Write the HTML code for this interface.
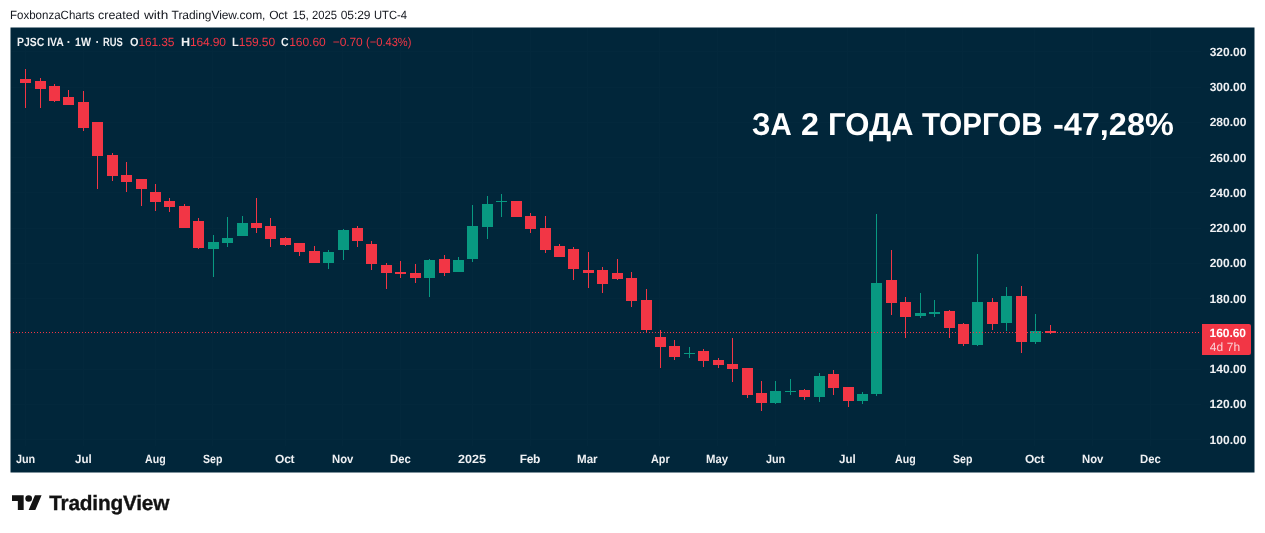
<!DOCTYPE html>
<html lang="ru"><head><meta charset="utf-8"><title>PJSC IVA chart</title>
<style>
html,body{margin:0;padding:0;background:#fff;}
body{width:1265px;height:533px;position:relative;overflow:hidden;font-family:"Liberation Sans",sans-serif;}
#chart{position:absolute;left:10px;top:27px;width:1246px;height:447px;overflow:hidden;}
#chart svg{position:absolute;left:0;top:0;}
.t{position:absolute;white-space:pre;line-height:1;display:block;text-rendering:geometricPrecision;}
#logoicon{position:absolute;left:12.1px;top:491.74px;}
#logo{-webkit-text-stroke:0.35px #131313;}
</style></head><body>
<div id="chart"><svg width="1246" height="447" viewBox="0 0 1246 447" shape-rendering="crispEdges">
<rect x="0.5" y="0.5" width="1244" height="445" fill="#01263a" shape-rendering="geometricPrecision"/>
<rect x="1" y="24" width="1190" height="1" fill="#03283c"/>
<rect x="1" y="60" width="1190" height="1" fill="#03283c"/>
<rect x="1" y="95" width="1190" height="1" fill="#03283c"/>
<rect x="1" y="130" width="1190" height="1" fill="#03283c"/>
<rect x="1" y="165" width="1190" height="1" fill="#03283c"/>
<rect x="1" y="201" width="1190" height="1" fill="#03283c"/>
<rect x="1" y="236" width="1190" height="1" fill="#03283c"/>
<rect x="1" y="271" width="1190" height="1" fill="#03283c"/>
<rect x="1" y="306" width="1190" height="1" fill="#03283c"/>
<rect x="1" y="342" width="1190" height="1" fill="#03283c"/>
<rect x="1" y="377" width="1190" height="1" fill="#03283c"/>
<rect x="1" y="412" width="1190" height="1" fill="#03283c"/>
<rect x="15" y="1" width="1" height="418" fill="#03283c"/>
<rect x="73" y="1" width="1" height="418" fill="#03283c"/>
<rect x="145" y="1" width="1" height="418" fill="#03283c"/>
<rect x="202" y="1" width="1" height="418" fill="#03283c"/>
<rect x="275" y="1" width="1" height="418" fill="#03283c"/>
<rect x="332" y="1" width="1" height="418" fill="#03283c"/>
<rect x="390" y="1" width="1" height="418" fill="#03283c"/>
<rect x="462" y="1" width="1" height="418" fill="#03283c"/>
<rect x="520" y="1" width="1" height="418" fill="#03283c"/>
<rect x="577" y="1" width="1" height="418" fill="#03283c"/>
<rect x="649" y="1" width="1" height="418" fill="#03283c"/>
<rect x="707" y="1" width="1" height="418" fill="#03283c"/>
<rect x="765" y="1" width="1" height="418" fill="#03283c"/>
<rect x="837" y="1" width="1" height="418" fill="#03283c"/>
<rect x="895" y="1" width="1" height="418" fill="#03283c"/>
<rect x="952" y="1" width="1" height="418" fill="#03283c"/>
<rect x="1024" y="1" width="1" height="418" fill="#03283c"/>
<rect x="1082" y="1" width="1" height="418" fill="#03283c"/>
<rect x="1140" y="1" width="1" height="418" fill="#03283c"/>
<rect x="15" y="42" width="1" height="39" fill="#f23645"/>
<rect x="10" y="52" width="11" height="4" fill="#f23645"/>
<rect x="30" y="51" width="1" height="30" fill="#f23645"/>
<rect x="25" y="54" width="11" height="8" fill="#f23645"/>
<rect x="44" y="57" width="1" height="18" fill="#f23645"/>
<rect x="39" y="59" width="11" height="15" fill="#f23645"/>
<rect x="58" y="63" width="1" height="15" fill="#f23645"/>
<rect x="53" y="70" width="11" height="8" fill="#f23645"/>
<rect x="73" y="64" width="1" height="40" fill="#f23645"/>
<rect x="68" y="75" width="11" height="26" fill="#f23645"/>
<rect x="87" y="95" width="1" height="67" fill="#f23645"/>
<rect x="82" y="95" width="11" height="34" fill="#f23645"/>
<rect x="102" y="126" width="1" height="28" fill="#f23645"/>
<rect x="97" y="128" width="11" height="21" fill="#f23645"/>
<rect x="116" y="135" width="1" height="30" fill="#f23645"/>
<rect x="111" y="148" width="11" height="7" fill="#f23645"/>
<rect x="131" y="152" width="1" height="27" fill="#f23645"/>
<rect x="126" y="152" width="11" height="10" fill="#f23645"/>
<rect x="145" y="157" width="1" height="27" fill="#f23645"/>
<rect x="140" y="165" width="11" height="10" fill="#f23645"/>
<rect x="159" y="171" width="1" height="14" fill="#f23645"/>
<rect x="154" y="174" width="11" height="6" fill="#f23645"/>
<rect x="174" y="177" width="1" height="24" fill="#f23645"/>
<rect x="169" y="179" width="11" height="22" fill="#f23645"/>
<rect x="188" y="191" width="1" height="31" fill="#f23645"/>
<rect x="183" y="194" width="11" height="27" fill="#f23645"/>
<rect x="203" y="208" width="1" height="42" fill="#089981"/>
<rect x="198" y="215" width="11" height="7" fill="#089981"/>
<rect x="217" y="190" width="1" height="30" fill="#089981"/>
<rect x="212" y="211" width="11" height="5" fill="#089981"/>
<rect x="232" y="189" width="1" height="20" fill="#089981"/>
<rect x="227" y="196" width="11" height="13" fill="#089981"/>
<rect x="246" y="171" width="1" height="35" fill="#f23645"/>
<rect x="241" y="196" width="11" height="5" fill="#f23645"/>
<rect x="260" y="191" width="1" height="29" fill="#f23645"/>
<rect x="255" y="199" width="11" height="13" fill="#f23645"/>
<rect x="275" y="210" width="1" height="9" fill="#f23645"/>
<rect x="270" y="211" width="11" height="7" fill="#f23645"/>
<rect x="289" y="216" width="1" height="13" fill="#f23645"/>
<rect x="284" y="216" width="11" height="9" fill="#f23645"/>
<rect x="304" y="219" width="1" height="17" fill="#f23645"/>
<rect x="299" y="224" width="11" height="12" fill="#f23645"/>
<rect x="318" y="223" width="1" height="19" fill="#089981"/>
<rect x="313" y="225" width="11" height="11" fill="#089981"/>
<rect x="333" y="202" width="1" height="31" fill="#089981"/>
<rect x="328" y="203" width="11" height="20" fill="#089981"/>
<rect x="347" y="199" width="1" height="21" fill="#f23645"/>
<rect x="342" y="201" width="11" height="13" fill="#f23645"/>
<rect x="361" y="214" width="1" height="29" fill="#f23645"/>
<rect x="356" y="217" width="11" height="20" fill="#f23645"/>
<rect x="376" y="236" width="1" height="26" fill="#f23645"/>
<rect x="371" y="238" width="11" height="8" fill="#f23645"/>
<rect x="390" y="234" width="1" height="17" fill="#f23645"/>
<rect x="385" y="245" width="11" height="2" fill="#f23645"/>
<rect x="405" y="237" width="1" height="19" fill="#f23645"/>
<rect x="400" y="246" width="11" height="5" fill="#f23645"/>
<rect x="419" y="232" width="1" height="38" fill="#089981"/>
<rect x="414" y="233" width="11" height="18" fill="#089981"/>
<rect x="434" y="228" width="1" height="21" fill="#f23645"/>
<rect x="429" y="232" width="11" height="14" fill="#f23645"/>
<rect x="448" y="230" width="1" height="15" fill="#089981"/>
<rect x="443" y="233" width="11" height="12" fill="#089981"/>
<rect x="462" y="178" width="1" height="57" fill="#089981"/>
<rect x="457" y="199" width="11" height="33" fill="#089981"/>
<rect x="477" y="169" width="1" height="43" fill="#089981"/>
<rect x="472" y="177" width="11" height="23" fill="#089981"/>
<rect x="491" y="167" width="1" height="23" fill="#089981"/>
<rect x="486" y="174" width="11" height="1" fill="#089981"/>
<rect x="506" y="174" width="1" height="16" fill="#f23645"/>
<rect x="501" y="174" width="11" height="16" fill="#f23645"/>
<rect x="520" y="186" width="1" height="20" fill="#f23645"/>
<rect x="515" y="189" width="11" height="13" fill="#f23645"/>
<rect x="535" y="189" width="1" height="37" fill="#f23645"/>
<rect x="530" y="201" width="11" height="22" fill="#f23645"/>
<rect x="549" y="217" width="1" height="13" fill="#f23645"/>
<rect x="544" y="219" width="11" height="11" fill="#f23645"/>
<rect x="563" y="220" width="1" height="33" fill="#f23645"/>
<rect x="558" y="222" width="11" height="20" fill="#f23645"/>
<rect x="578" y="225" width="1" height="36" fill="#f23645"/>
<rect x="573" y="243" width="11" height="3" fill="#f23645"/>
<rect x="592" y="240" width="1" height="26" fill="#f23645"/>
<rect x="587" y="243" width="11" height="14" fill="#f23645"/>
<rect x="607" y="232" width="1" height="21" fill="#f23645"/>
<rect x="602" y="246" width="11" height="6" fill="#f23645"/>
<rect x="621" y="245" width="1" height="35" fill="#f23645"/>
<rect x="616" y="251" width="11" height="23" fill="#f23645"/>
<rect x="636" y="262" width="1" height="44" fill="#f23645"/>
<rect x="631" y="273" width="11" height="30" fill="#f23645"/>
<rect x="650" y="303" width="1" height="38" fill="#f23645"/>
<rect x="645" y="310" width="11" height="10" fill="#f23645"/>
<rect x="664" y="313" width="1" height="20" fill="#f23645"/>
<rect x="659" y="319" width="11" height="11" fill="#f23645"/>
<rect x="679" y="320" width="1" height="11" fill="#089981"/>
<rect x="674" y="326" width="11" height="1" fill="#089981"/>
<rect x="693" y="322" width="1" height="18" fill="#f23645"/>
<rect x="688" y="324" width="11" height="10" fill="#f23645"/>
<rect x="708" y="331" width="1" height="10" fill="#f23645"/>
<rect x="703" y="333" width="11" height="5" fill="#f23645"/>
<rect x="722" y="311" width="1" height="44" fill="#f23645"/>
<rect x="717" y="337" width="11" height="5" fill="#f23645"/>
<rect x="737" y="341" width="1" height="30" fill="#f23645"/>
<rect x="732" y="341" width="11" height="27" fill="#f23645"/>
<rect x="751" y="354" width="1" height="30" fill="#f23645"/>
<rect x="746" y="366" width="11" height="10" fill="#f23645"/>
<rect x="765" y="354" width="1" height="23" fill="#089981"/>
<rect x="760" y="364" width="11" height="12" fill="#089981"/>
<rect x="780" y="352" width="1" height="16" fill="#089981"/>
<rect x="775" y="364" width="11" height="1" fill="#089981"/>
<rect x="794" y="362" width="1" height="11" fill="#f23645"/>
<rect x="789" y="363" width="11" height="7" fill="#f23645"/>
<rect x="809" y="346" width="1" height="29" fill="#089981"/>
<rect x="804" y="349" width="11" height="21" fill="#089981"/>
<rect x="823" y="343" width="1" height="25" fill="#f23645"/>
<rect x="818" y="347" width="11" height="14" fill="#f23645"/>
<rect x="838" y="360" width="1" height="20" fill="#f23645"/>
<rect x="833" y="360" width="11" height="14" fill="#f23645"/>
<rect x="852" y="365" width="1" height="12" fill="#089981"/>
<rect x="847" y="367" width="11" height="7" fill="#089981"/>
<rect x="866" y="187" width="1" height="182" fill="#089981"/>
<rect x="861" y="256" width="11" height="111" fill="#089981"/>
<rect x="881" y="223" width="1" height="65" fill="#f23645"/>
<rect x="876" y="253" width="11" height="23" fill="#f23645"/>
<rect x="895" y="270" width="1" height="41" fill="#f23645"/>
<rect x="890" y="275" width="11" height="15" fill="#f23645"/>
<rect x="910" y="266" width="1" height="25" fill="#089981"/>
<rect x="905" y="286" width="11" height="3" fill="#089981"/>
<rect x="924" y="273" width="1" height="17" fill="#089981"/>
<rect x="919" y="285" width="11" height="2" fill="#089981"/>
<rect x="939" y="283" width="1" height="28" fill="#f23645"/>
<rect x="934" y="284" width="11" height="17" fill="#f23645"/>
<rect x="953" y="296" width="1" height="23" fill="#f23645"/>
<rect x="948" y="297" width="11" height="20" fill="#f23645"/>
<rect x="967" y="227" width="1" height="92" fill="#089981"/>
<rect x="962" y="275" width="11" height="43" fill="#089981"/>
<rect x="982" y="271" width="1" height="32" fill="#f23645"/>
<rect x="977" y="275" width="11" height="22" fill="#f23645"/>
<rect x="996" y="260" width="1" height="44" fill="#089981"/>
<rect x="991" y="269" width="11" height="27" fill="#089981"/>
<rect x="1011" y="259" width="1" height="67" fill="#f23645"/>
<rect x="1006" y="269" width="11" height="46" fill="#f23645"/>
<rect x="1025" y="287" width="1" height="30" fill="#089981"/>
<rect x="1020" y="304" width="11" height="11" fill="#089981"/>
<rect x="1040" y="298" width="1" height="9" fill="#f23645"/>
<rect x="1035" y="304" width="11" height="2" fill="#f23645"/>
<line x1="0" y1="305.5" x2="1190" y2="305.5" stroke="#f23645" stroke-width="1" stroke-dasharray="1 2"/>
<path d="M1192 297h47a2 2 0 0 1 2 2v27a2 2 0 0 1 -2 2h-47z" fill="#f23645" shape-rendering="geometricPrecision"/>
</svg></div>
<svg id="logoicon" width="30" height="22.8" viewBox="0 0 36 28" preserveAspectRatio="none"><path fill="#131313" d="M14 22H7V11H0V4h14v18zM28 22h-8l7.5-18h8L28 22z"/><circle fill="#131313" cx="20" cy="8" r="4"/></svg>
<span id="hdr0" class="t" style="left:10.00px;top:8.84px;font-size:12px;font-weight:400;color:#15181f;transform:scaleX(0.9602);transform-origin:0 0;">FoxbonzaCharts</span>
<span id="hdr1" class="t" style="left:98.00px;top:8.84px;font-size:12px;font-weight:400;color:#15181f;transform:scaleX(1.0400);transform-origin:0 0;">created</span>
<span id="hdr2" class="t" style="left:144.00px;top:8.84px;font-size:12px;font-weight:400;color:#15181f;transform:scaleX(1.1352);transform-origin:0 0;">with</span>
<span id="hdr3" class="t" style="left:171.60px;top:8.84px;font-size:12px;font-weight:400;color:#15181f;letter-spacing:-0.060px;">TradingView.com,</span>
<span id="hdr4" class="t" style="left:269.15px;top:8.84px;font-size:12px;font-weight:400;color:#15181f;letter-spacing:-0.100px;">Oct</span>
<span id="hdr5" class="t" style="left:292.50px;top:8.84px;font-size:12px;font-weight:400;color:#15181f;letter-spacing:-0.175px;">15,</span>
<span id="hdr6" class="t" style="left:312.00px;top:8.84px;font-size:12px;font-weight:400;color:#15181f;transform:scaleX(0.9360);transform-origin:0 0;">2025</span>
<span id="hdr7" class="t" style="left:340.70px;top:8.84px;font-size:12px;font-weight:400;color:#15181f;letter-spacing:-0.075px;">05:29</span>
<span id="hdr8" class="t" style="left:374.00px;top:8.84px;font-size:12px;font-weight:400;color:#15181f;transform:scaleX(0.9343);transform-origin:0 0;">UTC-4</span>
<span id="lg0a" class="t" style="left:17.00px;top:35.84px;font-size:12px;font-weight:700;color:#eef0f3;transform:scaleX(0.8692);transform-origin:0 0;">PJSC IVA</span>
<span id="lg0b" class="t" style="left:66.72px;top:35.84px;font-size:12px;font-weight:700;color:#eef0f3;">·</span>
<span id="lg0c" class="t" style="left:75.00px;top:35.84px;font-size:12px;font-weight:700;color:#eef0f3;transform:scaleX(0.8814);transform-origin:0 0;">1W</span>
<span id="lg0d" class="t" style="left:95.53px;top:35.84px;font-size:12px;font-weight:700;color:#eef0f3;">·</span>
<span id="lg0e" class="t" style="left:103.00px;top:35.84px;font-size:12px;font-weight:700;color:#eef0f3;transform:scaleX(0.7814);transform-origin:0 0;">RUS</span>
<span id="lgO" class="t" style="left:130.00px;top:35.84px;font-size:12px;font-weight:700;color:#eef0f3;transform:scaleX(0.9091);transform-origin:0 0;">O</span>
<span id="lgOv" class="t" style="left:138.50px;top:35.84px;font-size:12px;font-weight:400;color:#f23645;letter-spacing:-0.150px;">161.35</span>
<span id="lgH" class="t" style="left:181.00px;top:35.84px;font-size:12px;font-weight:700;color:#eef0f3;transform:scaleX(1.0521);transform-origin:0 0;">H</span>
<span id="lgHv" class="t" style="left:189.90px;top:35.84px;font-size:12px;font-weight:400;color:#f23645;letter-spacing:-0.140px;">164.90</span>
<span id="lgL" class="t" style="left:232.00px;top:35.84px;font-size:12px;font-weight:700;color:#eef0f3;transform:scaleX(0.9134);transform-origin:0 0;">L</span>
<span id="lgLv" class="t" style="left:238.85px;top:35.84px;font-size:12px;font-weight:400;color:#f23645;letter-spacing:-0.090px;">159.50</span>
<span id="lgC" class="t" style="left:281.00px;top:35.84px;font-size:12px;font-weight:700;color:#eef0f3;transform:scaleX(0.8784);transform-origin:0 0;">C</span>
<span id="lgCv" class="t" style="left:289.20px;top:35.84px;font-size:12px;font-weight:400;color:#f23645;letter-spacing:-0.030px;">160.60</span>
<span id="lgD" class="t" style="left:332.80px;top:35.84px;font-size:12px;font-weight:400;color:#f23645;letter-spacing:-0.112px;">−0.70</span>
<span id="lgP" class="t" style="left:366.00px;top:35.84px;font-size:12px;font-weight:400;color:#f23645;transform:scaleX(0.9267);transform-origin:0 0;">(−0.43%)</span>
<span id="p0" class="t" style="left:1209.70px;top:45.74px;font-size:12px;font-weight:700;color:#eef0f3;letter-spacing:0.010px;">320.00</span>
<span id="p1" class="t" style="left:1209.70px;top:81.01px;font-size:12px;font-weight:700;color:#eef0f3;letter-spacing:0.010px;">300.00</span>
<span id="p2" class="t" style="left:1209.70px;top:116.28px;font-size:12px;font-weight:700;color:#eef0f3;letter-spacing:0.010px;">280.00</span>
<span id="p3" class="t" style="left:1209.70px;top:151.55px;font-size:12px;font-weight:700;color:#eef0f3;letter-spacing:0.010px;">260.00</span>
<span id="p4" class="t" style="left:1209.70px;top:186.82px;font-size:12px;font-weight:700;color:#eef0f3;letter-spacing:0.010px;">240.00</span>
<span id="p5" class="t" style="left:1209.70px;top:222.09px;font-size:12px;font-weight:700;color:#eef0f3;letter-spacing:0.010px;">220.00</span>
<span id="p6" class="t" style="left:1209.70px;top:257.36px;font-size:12px;font-weight:700;color:#eef0f3;letter-spacing:0.010px;">200.00</span>
<span id="p7" class="t" style="left:1209.45px;top:292.63px;font-size:12px;font-weight:700;color:#eef0f3;letter-spacing:0.060px;">180.00</span>
<span id="p9" class="t" style="left:1209.45px;top:363.17px;font-size:12px;font-weight:700;color:#eef0f3;letter-spacing:0.060px;">140.00</span>
<span id="p10" class="t" style="left:1209.45px;top:398.44px;font-size:12px;font-weight:700;color:#eef0f3;letter-spacing:0.060px;">120.00</span>
<span id="p11" class="t" style="left:1209.45px;top:433.71px;font-size:12px;font-weight:700;color:#eef0f3;letter-spacing:0.060px;">100.00</span>
<span id="m0" class="t" style="left:16.00px;top:452.84px;font-size:12px;font-weight:700;color:#eef0f3;transform:scaleX(0.9000);transform-origin:0 0;">Jun</span>
<span id="m1" class="t" style="left:75.00px;top:452.84px;font-size:12px;font-weight:700;color:#eef0f3;transform:scaleX(0.9639);transform-origin:0 0;">Jul</span>
<span id="m2" class="t" style="left:145.00px;top:452.84px;font-size:12px;font-weight:700;color:#eef0f3;transform:scaleX(0.8832);transform-origin:0 0;">Aug</span>
<span id="m3" class="t" style="left:203.00px;top:452.84px;font-size:12px;font-weight:700;color:#eef0f3;transform:scaleX(0.8788);transform-origin:0 0;">Sep</span>
<span id="m4" class="t" style="left:275.05px;top:452.84px;font-size:12px;font-weight:700;color:#eef0f3;letter-spacing:-0.250px;">Oct</span>
<span id="m5" class="t" style="left:332.00px;top:452.84px;font-size:12px;font-weight:700;color:#eef0f3;transform:scaleX(0.9425);transform-origin:0 0;">Nov</span>
<span id="m6" class="t" style="left:390.00px;top:452.84px;font-size:12px;font-weight:700;color:#eef0f3;transform:scaleX(0.9429);transform-origin:0 0;">Dec</span>
<span id="m7" class="t" style="left:458.00px;top:452.84px;font-size:12px;font-weight:700;color:#eef0f3;transform:scaleX(1.0500);transform-origin:0 0;">2025</span>
<span id="m8" class="t" style="left:519.75px;top:452.84px;font-size:12px;font-weight:700;color:#eef0f3;letter-spacing:-0.375px;">Feb</span>
<span id="m9" class="t" style="left:577.00px;top:452.84px;font-size:12px;font-weight:700;color:#eef0f3;transform:scaleX(0.9659);transform-origin:0 0;">Mar</span>
<span id="m10" class="t" style="left:651.00px;top:452.84px;font-size:12px;font-weight:700;color:#eef0f3;transform:scaleX(0.9038);transform-origin:0 0;">Apr</span>
<span id="m11" class="t" style="left:706.00px;top:452.84px;font-size:12px;font-weight:700;color:#eef0f3;transform:scaleX(0.9467);transform-origin:0 0;">May</span>
<span id="m12" class="t" style="left:766.00px;top:452.84px;font-size:12px;font-weight:700;color:#eef0f3;transform:scaleX(0.9000);transform-origin:0 0;">Jun</span>
<span id="m13" class="t" style="left:839.00px;top:452.84px;font-size:12px;font-weight:700;color:#eef0f3;transform:scaleX(0.9639);transform-origin:0 0;">Jul</span>
<span id="m14" class="t" style="left:895.00px;top:452.84px;font-size:12px;font-weight:700;color:#eef0f3;transform:scaleX(0.8832);transform-origin:0 0;">Aug</span>
<span id="m15" class="t" style="left:953.00px;top:452.84px;font-size:12px;font-weight:700;color:#eef0f3;transform:scaleX(0.8801);transform-origin:0 0;">Sep</span>
<span id="m16" class="t" style="left:1025.00px;top:452.84px;font-size:12px;font-weight:700;color:#eef0f3;letter-spacing:-0.250px;">Oct</span>
<span id="m17" class="t" style="left:1082.00px;top:452.84px;font-size:12px;font-weight:700;color:#eef0f3;transform:scaleX(0.9433);transform-origin:0 0;">Nov</span>
<span id="m18" class="t" style="left:1140.00px;top:452.84px;font-size:12px;font-weight:700;color:#eef0f3;transform:scaleX(0.9422);transform-origin:0 0;">Dec</span>
<span id="title0" class="t" style="left:752.00px;top:109.34px;font-size:31.5px;font-weight:700;color:#ffffff;transform:scaleX(0.9342);transform-origin:0 0;">ЗА</span>
<span id="title1" class="t" style="left:801.00px;top:109.34px;font-size:31.5px;font-weight:700;color:#ffffff;transform:scaleX(1.0233);transform-origin:0 0;">2</span>
<span id="title2" class="t" style="left:828.00px;top:109.34px;font-size:31.5px;font-weight:700;color:#ffffff;transform:scaleX(0.9863);transform-origin:0 0;">ГОДА</span>
<span id="title3" class="t" style="left:922.00px;top:109.34px;font-size:31.5px;font-weight:700;color:#ffffff;transform:scaleX(0.9370);transform-origin:0 0;">ТОРГОВ</span>
<span id="title4" class="t" style="left:1053.00px;top:109.34px;font-size:31.5px;font-weight:700;color:#ffffff;transform:scaleX(1.0290);transform-origin:0 0;">-47,28%</span>
<span id="tag1" class="t" style="left:1209.60px;top:326.64px;font-size:12px;font-weight:700;color:#ffffff;letter-spacing:-0.060px;">160.60</span>
<span id="tag2" class="t" style="left:1209.80px;top:340.64px;font-size:12px;font-weight:400;color:#fbd0d4;letter-spacing:0.062px;">4d 7h</span>
<span id="logo" class="t" style="left:49.25px;top:494.19px;font-size:20.8px;font-weight:700;color:#131313;letter-spacing:-0.205px;">TradingView</span>
</body></html>
